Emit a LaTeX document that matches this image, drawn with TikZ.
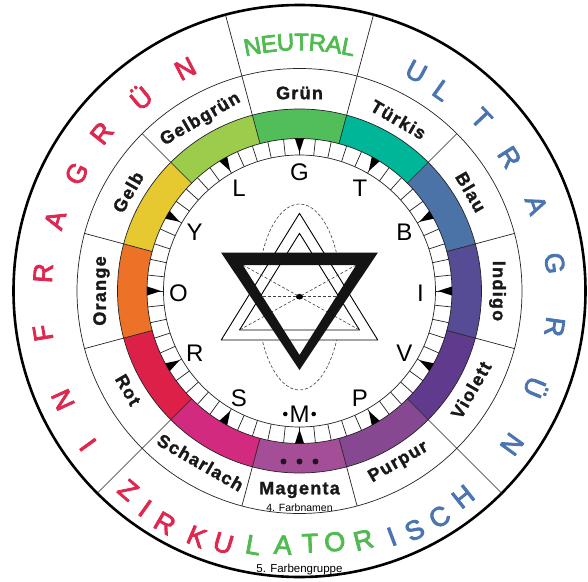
\documentclass[tikz,border=0pt]{standalone}
\usepackage{fontspec}
\setmainfont{Liberation Sans}
\newfontfamily\namefont{Liberation Sans}[LetterSpace=7, FakeBold=1.5]
\newfontfamily\bandfont{Liberation Sans}[FakeBold=3]
\definecolor{lineg}{RGB}{35,35,35}
\definecolor{namec}{RGB}{25,25,25}
\definecolor{cGruen}{RGB}{82,190,90}
\definecolor{cTuerkis}{RGB}{0,182,152}
\definecolor{cBlau}{RGB}{76,115,168}
\definecolor{cIndigo}{RGB}{86,76,150}
\definecolor{cViolett}{RGB}{96,58,140}
\definecolor{cPurpur}{RGB}{134,72,145}
\definecolor{cMagenta}{RGB}{165,78,152}
\definecolor{cScharlach}{RGB}{210,42,126}
\definecolor{cRot}{RGB}{221,32,72}
\definecolor{cOrange}{RGB}{236,114,40}
\definecolor{cGelb}{RGB}{230,200,48}
\definecolor{cGelbgruen}{RGB}{156,204,76}
\definecolor{cInfra}{RGB}{222,40,80}
\definecolor{cUltra}{RGB}{74,117,176}
\definecolor{cNeutral}{RGB}{80,187,80}
\begin{document}
\begin{tikzpicture}[x=1pt,y=1pt,line join=round,
  thinline/.style={line width=0.7pt, draw=lineg},
  colname/.style={font=\namefont\bfseries\fontsize{18}{18}\selectfont, inner sep=0pt, text=namec},
  bandletter/.style={font=\bandfont\fontsize{27}{27}\selectfont, inner sep=0pt},
  neutralletter/.style={font=\bandfont\fontsize{24}{24}\selectfont, inner sep=0pt, text=cNeutral},
  ringletter/.style={font=\fontsize{24}{24}\selectfont, inner sep=0pt},
  smalllabel/.style={font=\fontsize{10.5}{10.5}\selectfont, inner sep=0pt},
  starline/.style={line width=0.9pt, draw=black},
  helpline/.style={line width=0.6pt, draw=black!75, dash pattern=on 3pt off 2pt}]

\useasboundingbox (-299.5,-290) rectangle (288.5,291);
\fill[white] (-299.5,-290) rectangle (288.5,291);

% colour band
\foreach \c [count=\i from 0] in {cGruen,cTuerkis,cBlau,cIndigo,cViolett,cPurpur,cMagenta,cScharlach,cRot,cOrange,cGelb,cGelbgruen} {
  \pgfmathsetmacro\sa{105-30*\i}
  \pgfmathsetmacro\ea{75-30*\i}
  \fill[\c] (\sa:182) arc[start angle=\sa, end angle=\ea, radius=182] -- (\ea:152.5) arc[start angle=\ea, end angle=\sa, radius=152.5] -- cycle;
}

% rings
\draw[thinline] (0,0) circle[radius=136];
\draw[thinline] (0,0) circle[radius=152.5];
\draw[thinline] (0,0) circle[radius=182];
\draw[thinline] (0,0) circle[radius=222.5];
\draw[line width=2.6pt] (0,0) circle[radius=286];

% segment borders
\foreach \k in {0,...,11} \draw[thinline] ({15+30*\k}:152.5) -- ({15+30*\k}:222.5);
\foreach \a in {75,105,225,315} \draw[thinline] (\a:222.5) -- (\a:286);

% tick ring
\foreach \k in {0,...,59} \draw[thinline] ({6*\k}:136) -- ({6*\k}:152.5);
\foreach \k in {0,...,11} \fill[black] ({30*\k}:138.5) -- ({30*\k-1.7}:152.5) -- ({30*\k+1.7}:152.5) -- cycle;

% colour names
\foreach \t/\a/\r [count=\i] in {Grün/90/0, Türkis/60/-30, Blau/30/-60, Indigo/0/-90, Violett/-30/60, Purpur/-60/30, Scharlach/-120/-30, Rot/-150/-60, Orange/180/90, Gelb/150/60, Gelbgrün/120/30}
  \node[colname, rotate=\r] (name\i) at (\a:198) {\t};
\node[colname] (nameMagenta) at (0,-199) {Magenta};
\node[smalllabel] (farbnamen) at (0,-217) {4. Farbnamen};
\node[smalllabel, font=\fontsize{11.5}{11.5}\selectfont] (farbengruppe) at (0,-279) {5. Farbengruppe};

% dots in magenta band
\foreach \x [count=\i] in {-16,0,16} \fill[black!90] (\x,-170.5) circle[radius=3];

% ring letters
\foreach \l/\a in {G/90,T/60,B/30,I/0,V/-30,P/-60,M/-90,S/-120,R/-150,O/180,Y/150,L/120}
  \node[ringletter] (ring\l) at ([shift={(0,-2)}]\a:121) {\l};
\fill (ringM.west) ++(-4,0) circle[radius=2.3];
\fill (ringM.east) ++(4,0) circle[radius=2.3];

% outer band: INFRAGRÜN
\foreach \l/\a/\r [count=\i] in {I/216/261.6, N/204.7/260.4, F/189.3/260, R/176/257, A/163.8/254.6, G/152.2/252, R/141.4/253, Ü/129.4/251, N/117.2/250}
  \node[bandletter, text=cInfra, rotate=\a-90] (infra\i) at (\a:\r) {\l};
% ULTRAGRÜN
\foreach \l/\a/\r [count=\i] in {U/62/248.5, L/54.6/246, T/43.5/250.8, R/32.5/249, A/20/252, G/6.2/256.7, R/-8/257.7, Ü/-22.3/256, N/-35.8/262}
  \node[bandletter, text=cUltra, rotate=\a-90] (ultra\i) at (\a:\r) {\l};
% NEUTRAL
\foreach \l/\a [count=\i] in {N/100.9, E/97.06, U/93.22, T/89.54, R/85.86, A/82.03, L/78.66}
  \node[neutralletter, rotate=\a-90] (neutral\i) at (\a:249) {\l};
% ZIRKULATORISCH
\foreach \l/\a/\r/\c [count=\i] in {Z/229.3/262.5/cInfra, I/234.6/266.6/cInfra, R/239.9/268.5/cInfra, K/247.3/266.3/cInfra, U/253.2/263.6/cInfra, L/259.7/258.2/cNeutral, A/266.3/254.5/cNeutral, T/272.4/252.5/cNeutral, O/278/253.2/cNeutral, R/284.4/257/cNeutral, I/290.6/262.4/cUltra, S/295.7/265.3/cUltra, C/301.8/265.7/cUltra, H/308.5/262.8/cUltra}
  \node[bandletter, text=\c, rotate=\a+90] (zirk\i) at (\a:\r) {\l};

% star
\draw[helpline] (0,-6) ellipse[x radius=42, y radius=93];
\fill[white] (0,77.7) -- (-78.3,-49) -- (78.3,-49) -- cycle;
\fill[white] (-78.3,38.3) -- (78.3,38.3) -- (0,-79) -- cycle;
\draw[starline] (0,77.7) -- (-78.3,-49) -- (78.3,-49) -- cycle;
\draw[starline] (0,57.7) -- (-60,-39) -- (60,-39) -- cycle;
\draw[helpline] (-56.7,26) -- (60,-39);
\draw[helpline] (56.7,26) -- (-60,-39);
\draw[helpline] (-36.7,-5.7) -- (36.7,-5.7);
\fill[black!92, even odd rule] (-78.3,38.3) -- (78.3,38.3) -- (0,-79) -- cycle (-56.7,26) -- (56.7,26) -- (0,-64) -- cycle;
\fill[black] (0,-5.7) ellipse[x radius=3.6, y radius=2.8];
\end{tikzpicture}
\end{document}
